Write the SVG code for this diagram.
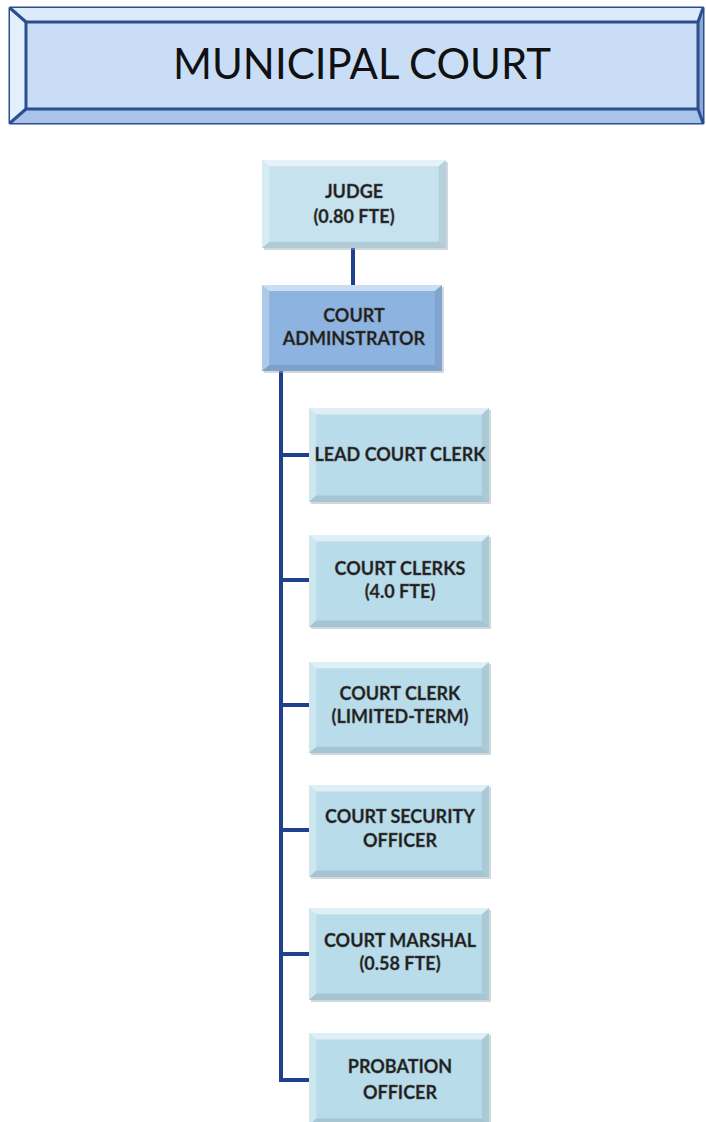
<svg xmlns="http://www.w3.org/2000/svg" width="706" height="1122" viewBox="0 0 706 1122">
  <defs>
    <style>
      .bg { fill: #ffffff; }
      .title-edge { stroke: #2c4d8e; stroke-width: 3; stroke-linejoin: round; }
      .title-text { font-family: Lato, "Open Sans", "DejaVu Sans", sans-serif; font-size: 42px; fill: #111111; }
      .lbl { font-family: Lato, "Open Sans", "DejaVu Sans", sans-serif; font-weight: bold; font-size: 18px; fill: #1e1e1e; stroke: #555555; stroke-width: 0.35; text-anchor: middle; }
      .box-light { fill: #c6e2ef; }
      .box-admin { fill: #8db4e0; }
      .box-child { fill: #b8dcea; }
      .shadow { fill: #9aa6ae; opacity: 0.45; }
      .link { fill: none; stroke: #1f3f8f; stroke-width: 4; stroke-linecap: butt; stroke-linejoin: miter; }
    </style>
    <!-- bevel highlight / shade overlay, stretched to each box -->
    <symbol id="bevel" viewBox="0 0 100 100" preserveAspectRatio="none">
      <polygon points="0,0 100,0 96,7 4,7" fill="#ffffff" opacity="0.55"/>
      <polygon points="0,0 4,7 4,93 0,100" fill="#ffffff" opacity="0.3"/>
      <polygon points="0,100 4,93 96,93 100,100" fill="#000000" opacity="0.1"/>
      <polygon points="100,0 100,100 96,93 96,7" fill="#000000" opacity="0.08"/>
    </symbol>
  </defs>

  <rect class="bg" x="0" y="0" width="706" height="1122"/>

  <!-- title banner -->
  <g id="title">
    <rect x="10" y="8" width="693" height="115" fill="#c9def6" class="title-edge"/>
    <polygon points="10,8 703,8 698,22 26,22" fill="#dcebfb"/>
    <polygon points="10,8 26,22 26,109 10,123" fill="#e2effd"/>
    <polygon points="10,123 26,109 698,109 703,123" fill="#a9c3ea"/>
    <polygon points="703,8 703,123 698,109 698,22" fill="#8ea8d4"/>
    <polyline points="10,8 26,22" class="title-edge" fill="none"/>
    <polyline points="10,123 26,109" class="title-edge" fill="none"/>
    <polyline points="703,8 698,22" class="title-edge" fill="none"/>
    <polyline points="703,123 698,109" class="title-edge" fill="none"/>
    <rect x="26" y="22" width="672" height="87" fill="#c9def6" class="title-edge"/>
    <text class="title-text" x="362" y="79" text-anchor="middle" textLength="378" lengthAdjust="spacingAndGlyphs">MUNICIPAL COURT</text>
  </g>

  <!-- connectors -->
  <g id="connectors">
    <line class="link" x1="353" y1="248" x2="353" y2="285"/>
    <path class="link" d="M281,370 V1080 H309"/>
    <line class="link" x1="281" y1="455" x2="309" y2="455"/>
    <line class="link" x1="281" y1="580" x2="309" y2="580"/>
    <line class="link" x1="281" y1="705" x2="309" y2="705"/>
    <line class="link" x1="281" y1="830" x2="309" y2="830"/>
    <line class="link" x1="281" y1="954" x2="309" y2="954"/>
  </g>

  <!-- judge -->
  <g id="judge">
    <rect class="shadow" x="264" y="162" width="184" height="88"/>
    <rect class="box-light" x="262" y="160" width="184" height="88"/>
    <use href="#bevel" x="262" y="160" width="184" height="88"/>
    <text class="lbl" x="354" y="198">JUDGE</text>
    <text class="lbl" x="354" y="223">(0.80 FTE)</text>
  </g>

  <!-- court administrator -->
  <g id="administrator">
    <rect class="shadow" x="264" y="287" width="180" height="86"/>
    <rect class="box-admin" x="262" y="285" width="180" height="86"/>
    <use href="#bevel" x="262" y="285" width="180" height="86"/>
    <text class="lbl" x="354" y="322">COURT</text>
    <text class="lbl" x="354" y="345">ADMINSTRATOR</text>
  </g>

  <!-- staff -->
  <g id="lead-clerk">
    <rect class="shadow" x="311" y="410" width="180" height="94"/>
    <rect class="box-child" x="309" y="408" width="180" height="94"/>
    <use href="#bevel" x="309" y="408" width="180" height="94"/>
    <text class="lbl" x="400" y="461">LEAD COURT CLERK</text>
  </g>

  <g id="court-clerks">
    <rect class="shadow" x="311" y="537" width="180" height="92"/>
    <rect class="box-child" x="309" y="535" width="180" height="92"/>
    <use href="#bevel" x="309" y="535" width="180" height="92"/>
    <text class="lbl" x="400" y="575">COURT CLERKS</text>
    <text class="lbl" x="400" y="598">(4.0 FTE)</text>
  </g>

  <g id="limited-term-clerk">
    <rect class="shadow" x="311" y="664" width="180" height="91"/>
    <rect class="box-child" x="309" y="662" width="180" height="91"/>
    <use href="#bevel" x="309" y="662" width="180" height="91"/>
    <text class="lbl" x="400" y="700">COURT CLERK</text>
    <text class="lbl" x="400" y="723">(LIMITED-TERM)</text>
  </g>

  <g id="security-officer">
    <rect class="shadow" x="311" y="787" width="180" height="92"/>
    <rect class="box-child" x="309" y="785" width="180" height="92"/>
    <use href="#bevel" x="309" y="785" width="180" height="92"/>
    <text class="lbl" x="400" y="823">COURT SECURITY</text>
    <text class="lbl" x="400" y="847">OFFICER</text>
  </g>

  <g id="marshal">
    <rect class="shadow" x="311" y="910" width="180" height="92"/>
    <rect class="box-child" x="309" y="908" width="180" height="92"/>
    <use href="#bevel" x="309" y="908" width="180" height="92"/>
    <text class="lbl" x="400" y="947">COURT MARSHAL</text>
    <text class="lbl" x="400" y="970">(0.58 FTE)</text>
  </g>

  <g id="probation-officer">
    <rect class="shadow" x="311" y="1035" width="180" height="92"/>
    <rect class="box-child" x="309" y="1033" width="180" height="92"/>
    <use href="#bevel" x="309" y="1033" width="180" height="92"/>
    <text class="lbl" x="400" y="1073">PROBATION</text>
    <text class="lbl" x="400" y="1099">OFFICER</text>
  </g>
</svg>
